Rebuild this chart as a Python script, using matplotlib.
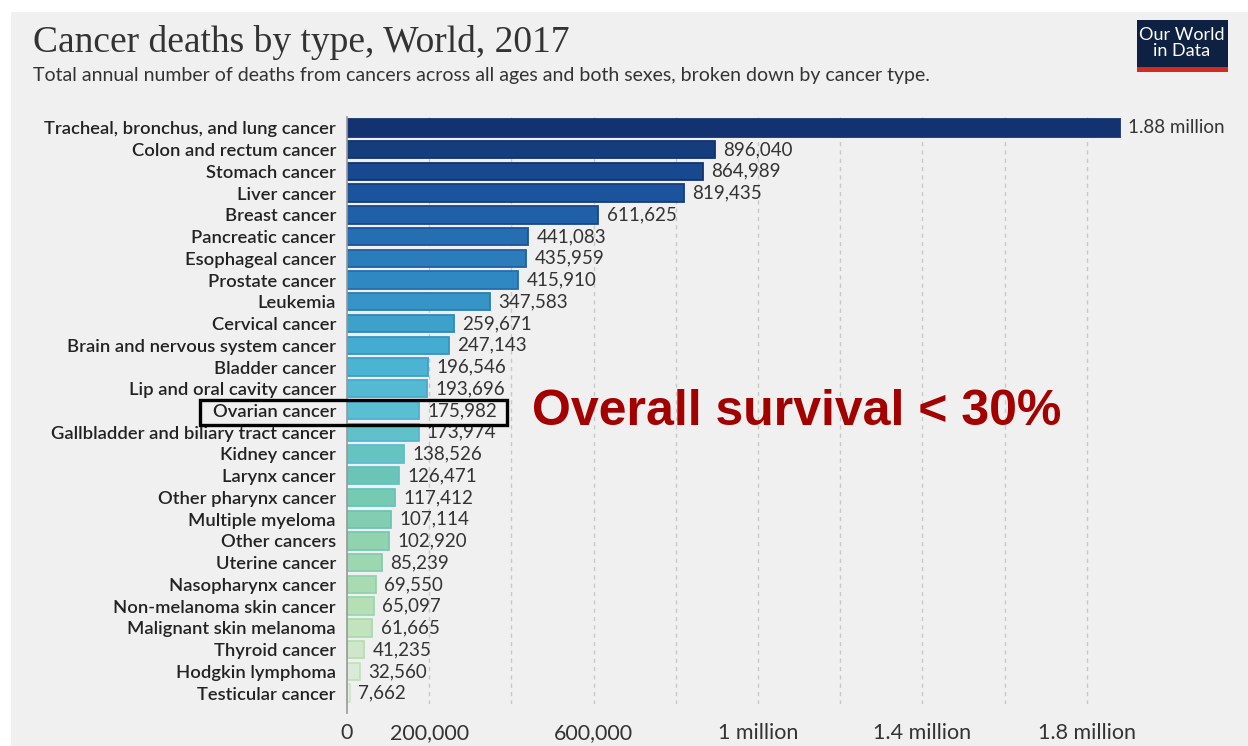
import matplotlib
matplotlib.use("Agg")
import matplotlib.pyplot as plt
import matplotlib.patches as patches
from matplotlib.colors import LinearSegmentedColormap
import numpy as np

# Data
cancers = ["Tracheal, bronchus, and lung cancer", "Colon and rectum cancer", "Stomach cancer",
           "Liver cancer", "Breast cancer", "Pancreatic cancer", "Esophageal cancer",
           "Prostate cancer", "Leukemia", "Cervical cancer", "Brain and nervous system cancer",
           "Bladder cancer", "Lip and oral cavity cancer", "Ovarian cancer",
           "Gallbladder and biliary tract cancer", "Kidney cancer", "Larynx cancer",
           "Other pharynx cancer", "Multiple myeloma", "Other cancers", "Uterine cancer",
           "Nasopharynx cancer", "Non-melanoma skin cancer", "Malignant skin melanoma",
           "Thyroid cancer", "Hodgkin lymphoma", "Testicular cancer"]
deaths = [1880000, 896040, 864989, 819435, 611625, 441083, 435959, 415910, 347583,
          259671, 247143, 196546, 193696, 175982, 173974, 138526, 126471, 117412,
          107114, 102920, 85239, 69550, 65097, 61665, 41235, 32560, 7662]
value_labels = ["1.88 million"] + [f"{v:,}" for v in deaths[1:]]
tick_vals = [0, 200000, 600000, 1000000, 1400000, 1800000]
tick_labels = ["0", "200,000", "600,000", "1 million", "1.4 million", "1.8 million"]
grid_vals = [200000, 400000, 600000, 800000, 1000000, 1200000, 1400000, 1600000, 1800000]

title = "Cancer deaths by type, World, 2017"
subtitle = "Total annual number of deaths from cancers across all ages and both sexes, broken down by cancer type."

W, H = 1248, 746
fig = plt.figure(figsize=(W / 100, H / 100), dpi=100, facecolor="white")

# gray panel
fig.patches.append(patches.Rectangle((11 / W, 0), 1, 1 - 12 / H, transform=fig.transFigure,
                                     facecolor="#f0f0f0", edgecolor="none", zorder=-10))

x0_px, xr_px = 347, 1169
top_px, bot_px = 117, 704
ax = fig.add_axes([x0_px / W, 1 - bot_px / H, (xr_px - x0_px) / W, (bot_px - top_px) / H])
ax.set_facecolor("none")

cmap = LinearSegmentedColormap.from_list("owid", ["#12336f", "#1c56a2", "#2c83be", "#42abd1",
                                                  "#5bbfd3", "#6cc6b4", "#96d5ad", "#bfe2b8",
                                                  "#e6ece6"])
n = len(cancers)
y = np.arange(n)
colors = [cmap(i / (n - 1)) for i in range(n)]
edges = [cmap(max(i / (n - 1) - 0.08, 0)) for i in range(n)]
ax.barh(y, deaths, height=0.8, color=colors, edgecolor=edges, linewidth=1.3, zorder=3)

ax.set_xlim(0, 2000000)
ax.set_ylim(n - 0.5, -0.5)

for v in grid_vals:
    ax.axvline(v, color="#c8c8c8", linestyle=(0, (3, 3)), linewidth=1, zorder=1)
ax.plot([0, 0], [-0.5, n - 0.1], color="#999999", linewidth=1.2, zorder=4, clip_on=False)

for i, (v, lab) in enumerate(zip(deaths, value_labels)):
    ax.annotate(lab, (v, i), xytext=(6, 0), textcoords="offset points", va="center", ha="left",
                fontsize=13.5, family="Lato", color="#333333", zorder=5)

ax.set_yticks(y)
ax.set_yticklabels(cancers, fontsize=13.2, family="Lato", fontweight="semibold", color="#222222")
ax.tick_params(axis="y", length=0, pad=8)
ax.set_xticks(tick_vals)
ax.set_xticklabels(tick_labels, fontsize=15.5, family="Lato", color="#333333")
ax.tick_params(axis="x", length=0, pad=14)
for s in ax.spines.values():
    s.set_visible(False)

# highlight box around Ovarian cancer
ax.add_patch(patches.Rectangle((-357000, 12.52), 746000, 1.15, fill=False, edgecolor="black",
                               linewidth=2.4, clip_on=False, zorder=6))
ax.text(450000, 13.05, "Overall survival < 30%", fontsize=36, fontweight="bold",
        family="Liberation Sans", color="#a30000", va="center", ha="left", zorder=6)

fig.text(33 / W, 1 - 42 / H, title, fontsize=27, family="Liberation Serif", color="#333333",
         va="center", ha="left")
fig.text(33 / W, 1 - 75 / H, subtitle, fontsize=14, family="Lato", color="#333333",
         va="center", ha="left")

# logo
fig.patches.append(patches.Rectangle((1137 / W, 1 - 72 / H), 91 / W, 52 / H, transform=fig.transFigure,
                                     facecolor="#0f2143", edgecolor="none"))
fig.patches.append(patches.Rectangle((1137 / W, 1 - 72 / H), 91 / W, 5 / H, transform=fig.transFigure,
                                     facecolor="#d42b21", edgecolor="none"))
fig.text(1182 / W, 1 - 43 / H, "Our World\nin Data", fontsize=13, family="Lato", color="white",
         ha="center", va="center", linespacing=0.95)

fig.savefig("out.png", dpi=100, facecolor=fig.get_facecolor())
